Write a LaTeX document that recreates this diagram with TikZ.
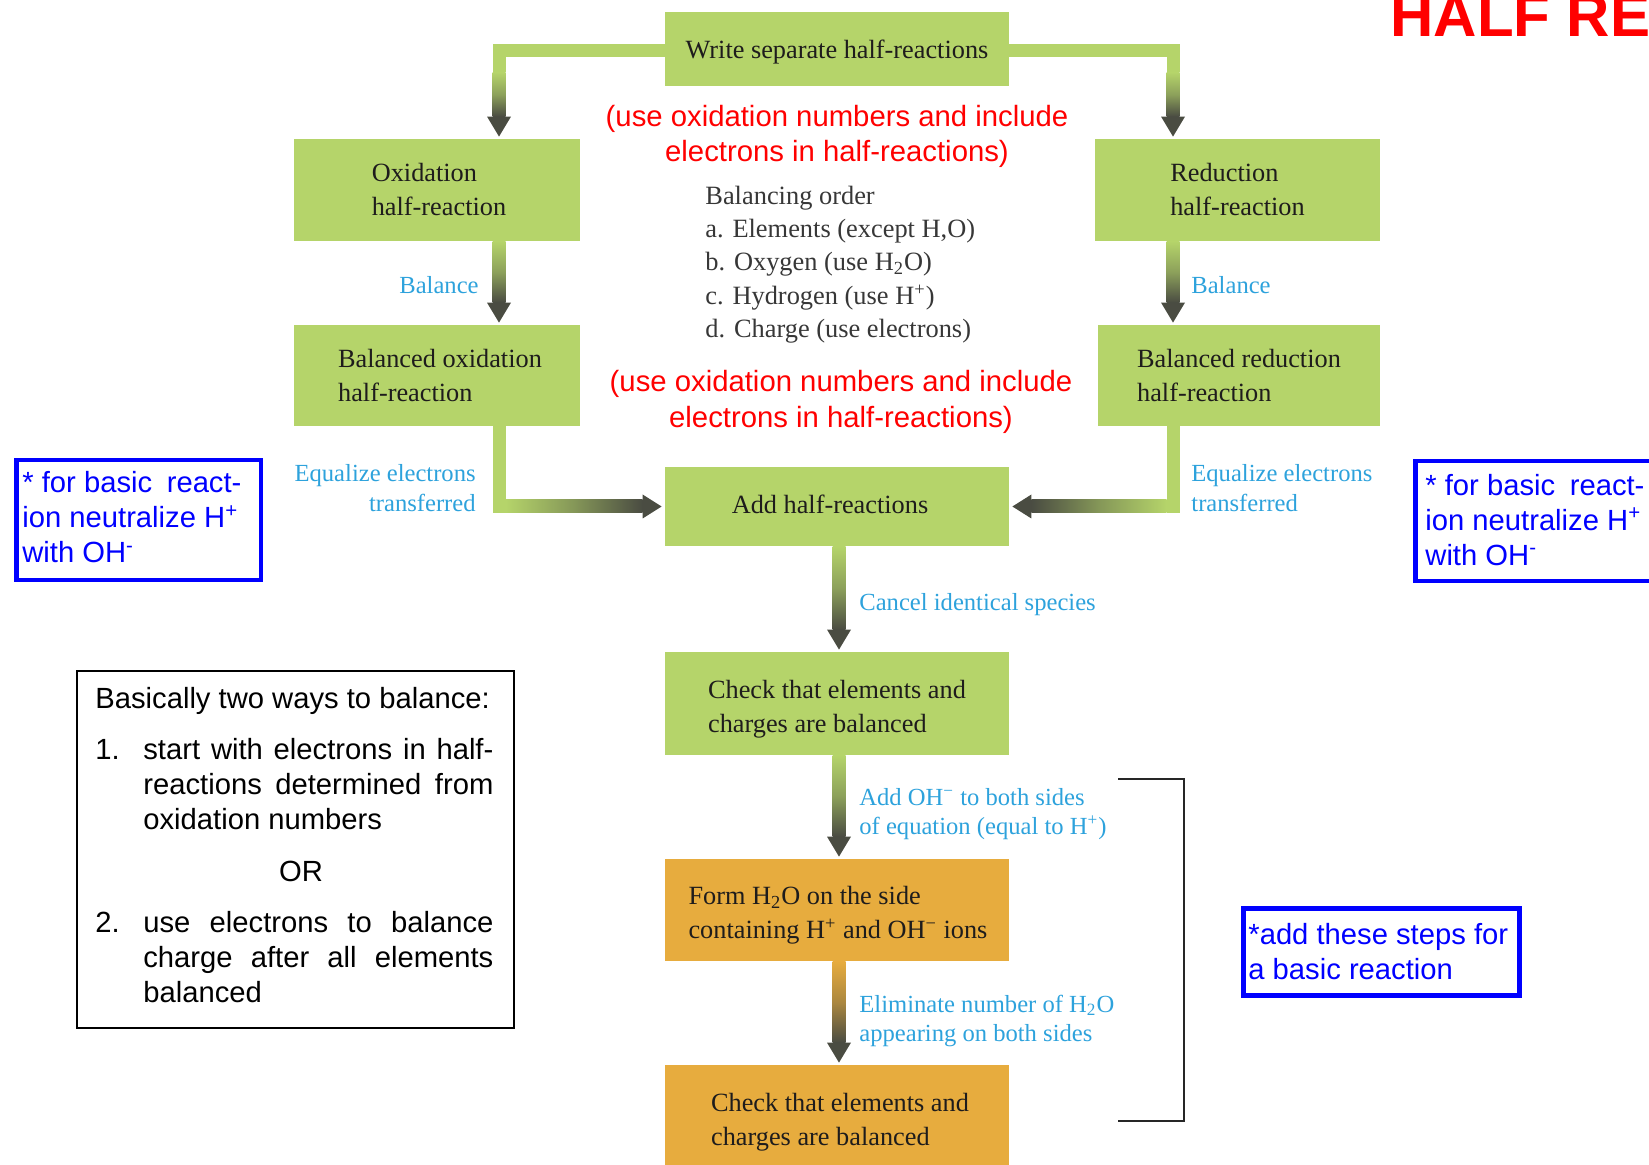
\documentclass[tikz,border=0pt]{standalone}
\usepackage{fontspec}
\setmainfont{Liberation Serif}
\newfontfamily\arialf{Liberation Sans}
\usetikzlibrary{calc}
\definecolor{boxgreen}{RGB}{181,212,106}
\definecolor{boxorange}{RGB}{231,172,62}
\definecolor{arrowdark}{RGB}{74,76,66}
\definecolor{lblue}{RGB}{45,162,220}
\definecolor{txtdark}{RGB}{30,28,28}
\definecolor{ordertxt}{RGB}{55,55,55}
\newcommand\myvflow[3]{%
  \shade[top color=#3, bottom color=arrowdark, middle color=#3!62!arrowdark] ($(#1)+(-6.5,0)$) rectangle ($(#2)+(6.5,-20)$);
  \fill[arrowdark] ($(#2)+(-12,-20)$) -- ($(#2)+(12,-20)$) -- (#2) -- cycle;}
\begin{document}
\begin{tikzpicture}[x=0.5pt,y=-0.5pt,
  gbox/.style={inner sep=0pt, fill=boxgreen},
  obox/.style={inner sep=0pt, fill=boxorange},
  btxt/.style={inner sep=0pt, align=left, text=txtdark, font=\fontsize{13.15}{17}\selectfont},
  lbl/.style={inner sep=0pt, text=lblue, font=\fontsize{12.3}{14.75}\selectfont},
  redtxt/.style={inner sep=0pt, align=center, text=red, font=\arialf\fontsize{14.65}{17.75}\selectfont},
  bluebox/.style={draw=blue, line width=2.25pt, inner sep=0pt, anchor=north west},
  bluetxt/.style={inner sep=0pt, align=left, text=blue, anchor=west, font=\arialf\fontsize{14.6}{17.5}\selectfont},
  note/.style={inner sep=0pt, text=black, font=\arialf\fontsize{14.6}{17.5}\selectfont}
]
\useasboundingbox (0,0) rectangle (1649,1165);
\clip (0,0) rectangle (1649,1165);

% boxes
\node[gbox, minimum width=172pt, minimum height=37pt] (W) at (837,49) {};
\node[gbox, minimum width=143pt, minimum height=51pt] (ox) at (437,190) {};
\node[gbox, minimum width=142.5pt, minimum height=51pt] (rd) at (1237.5,190) {};
\node[gbox, minimum width=143pt, minimum height=50.5pt] (bo) at (437,375.5) {};
\node[gbox, minimum width=141pt, minimum height=50.5pt] (br) at (1239,375.5) {};
\node[gbox, minimum width=172pt, minimum height=39.5pt] (add) at (837,506.5) {};
\node[gbox, minimum width=172pt, minimum height=51.5pt] (ck1) at (837,703.5) {};
\node[obox, minimum width=172pt, minimum height=51pt] (form) at (837,910) {};
\node[obox, minimum width=172pt, minimum height=52.5pt] (ck2) at (837,1117.5) {};

% box texts
\node[btxt] (Wt) at ($(W.center)+(0,3)$) {Write separate half-reactions};
\node[btxt] (oxt) at ($(ox.center)+(2,0)$) {Oxidation\\half-reaction};
\node[btxt] (rdt) at ($(rd.center)+(0,0)$) {Reduction\\half-reaction};
\node[btxt] (bot) at ($(bo.center)+(3,0)$) {Balanced oxidation\\half-reaction};
\node[btxt] (brt) at ($(br.center)+(0,0)$) {Balanced reduction\\half-reaction};
\node[btxt] (addt) at ($(add.center)+(-7,-2)$) {Add half-reactions};
\node[btxt] (ck1t) at ($(ck1.center)+(0,5.5)$) {Check that elements and\\charges are balanced};
\node[btxt] (formt) at ($(form.center)+(1,5)$) {Form H\textsubscript{2}O on the side\\containing H\textsuperscript{+} and OH\textsuperscript{−} ions};
\node[btxt] (ck2t) at ($(ck2.center)+(3,5)$) {Check that elements and\\charges are balanced};

% helper coordinates
\coordinate (cl) at (499,50.5);
\coordinate (cr) at (1173,50.5);
\coordinate (cm) at (839,0);
\coordinate (a0t) at ($(cl |- ox.north)+(0,-2)$);
\coordinate (a0u) at ($(cr |- rd.north)+(0,-2)$);
\coordinate (a1s) at (cl |- ox.south);
\coordinate (a1t) at ($(cl |- bo.north)+(0,-2)$);
\coordinate (a2s) at (cr |- rd.south);
\coordinate (a2t) at ($(cr |- br.north)+(0,-2)$);
\coordinate (a3s) at (cm |- add.south);
\coordinate (a3t) at ($(cm |- ck1.north)+(0,-2)$);
\coordinate (a4s) at (cm |- ck1.south);
\coordinate (a4t) at ($(cm |- form.north)+(0,-2)$);
\coordinate (a5s) at (cm |- form.south);
\coordinate (a5t) at ($(cm |- ck2.north)+(0,-2)$);
\coordinate (el) at (cl |- add.west);
\coordinate (er) at (cr |- add.east);

% top connectors
\fill[boxgreen] ($(W.west |- cl)+(0,-6.5)$) rectangle ($(cl)+(-6.5,6.5)$);
\fill[boxgreen] ($(cl)+(-6.5,0)$) rectangle ($(cl)+(6.5,22)$);
\coordinate (cl2) at ($(cl)+(0,22)$);
\myvflow{cl2}{a0t}{boxgreen}
\fill[boxgreen] ($(W.east |- cr)+(0,-6.5)$) rectangle ($(cr)+(6.5,6.5)$);
\fill[boxgreen] ($(cr)+(-6.5,0)$) rectangle ($(cr)+(6.5,22)$);
\coordinate (cr2) at ($(cr)+(0,22)$);
\myvflow{cr2}{a0u}{boxgreen}

% balance arrows
\myvflow{a1s}{a1t}{boxgreen}
\myvflow{a2s}{a2t}{boxgreen}

% equalize connectors
\fill[boxgreen] ($(bo.south -| cl)+(-6.5,0)$) rectangle ($(el)+(6.5,6.5)$);
\shade[left color=boxgreen, right color=arrowdark, middle color=boxgreen!55!arrowdark] ($(el)+(6.5,-6.5)$) rectangle ($(add.west)+(-22,6.5)$);
\fill[arrowdark] ($(add.west)+(-22,-12)$) -- ($(add.west)+(-22,12)$) -- ($(add.west)+(-3,0)$) -- cycle;
\fill[boxgreen] ($(br.south -| cr)+(-6.5,0)$) rectangle ($(er)+(6.5,6.5)$);
\shade[left color=arrowdark, right color=boxgreen, middle color=boxgreen!55!arrowdark] ($(add.east)+(22,-6.5)$) rectangle ($(er)+(-6.5,6.5)$);
\fill[arrowdark] ($(add.east)+(22,-12)$) -- ($(add.east)+(22,12)$) -- ($(add.east)+(3,0)$) -- cycle;

% lower arrows
\myvflow{a3s}{a3t}{boxgreen}
\myvflow{a4s}{a4t}{boxgreen}
\myvflow{a5s}{a5t}{boxorange}

% labels
\node[lbl, anchor=east] (lb1) at (479,285) {Balance};
\node[lbl, anchor=west] (lb2) at (1191,285) {Balance};
\node[lbl, align=right, anchor=east] (lb3) at (476,488) {Equalize electrons\\transferred};
\node[lbl, align=left, anchor=west] (lb4) at (1191,488) {Equalize electrons\\transferred};
\node[lbl, anchor=west] (lb5) at (859,605) {Cancel identical species};
\node[lbl, align=left, anchor=west] (lb6) at (859,814) {Add OH\textsuperscript{−} to both sides\\of equation (equal to H\textsuperscript{+})};
\node[lbl, align=left, anchor=west] (lb7) at (859,1021) {Eliminate number of H\textsubscript{2}O\\appearing on both sides};

% red notes
\node[redtxt] (rn1) at (837,136.5) {(use oxidation numbers and include\\electrons in half-reactions)};
\node[redtxt] (rn2) at (841,402) {(use oxidation numbers and include\\electrons in half-reactions)};

% balancing order
\node[inner sep=0pt, align=left, anchor=west, text=ordertxt, font=\fontsize{13.2}{16.6}\selectfont] (order) at (705,264.5)
  {Balancing order\\a. Elements (except H,O)\\b. Oxygen (use H\textsubscript{2}O)\\c. Hydrogen (use H\textsuperscript{+})\\d. Charge (use electrons)};

% bracket
\draw[line width=1pt, black!85] (1118,779) -- (1184,779) -- (1184,1121) -- (1118,1121);

% blue boxes
\node[bluebox, minimum width=122.25pt, minimum height=60pt] (bl) at (14,458) {};
\node[bluetxt] (blt) at (22,517.5) {* for basic\hspace{0.5em}react-\\ion neutralize H\textsuperscript{+}\\with OH\textsuperscript{-}};
\node[bluebox, minimum width=150pt, minimum height=60pt] (brx) at (1413,459) {};
\node[bluetxt] (brxt) at (1425,520) {* for basic\hspace{0.5em}react-\\ion neutralize H\textsuperscript{+}\\with OH\textsuperscript{-}};
\node[bluebox, minimum width=138pt, minimum height=43.5pt] (bs) at (1241,906) {};
\node[bluetxt] (bst) at (1248,951.5) {*add these steps for\\a basic reaction};

% black note box
\node[draw, line width=0.75pt, minimum width=218.5pt, minimum height=178.5pt, anchor=north west, inner sep=0pt] (nb) at (76,670) {};
\node[note, anchor=base west] (n0) at (95,708.5) {Basically two ways to balance:};
\node[note, anchor=base west] (n1) at (95,759.5) {\makebox[24pt][l]{1.}\parbox[t]{175pt}{start with electrons in half-\linebreak reactions determined from\linebreak oxidation numbers}};
\node[note, anchor=base] (nor) at (301,881.5) {OR};
\node[note, anchor=base west] (n2) at (95,932.5) {\makebox[24pt][l]{2.}\parbox[t]{175pt}{use electrons to balance\linebreak charge after all elements\linebreak balanced}};

% title
\node[anchor=base west, inner sep=0pt, text=red, font=\arialf\bfseries\fontsize{30}{36}\selectfont] (title) at (1390,37) {HALF RE};
\end{tikzpicture}
\end{document}
